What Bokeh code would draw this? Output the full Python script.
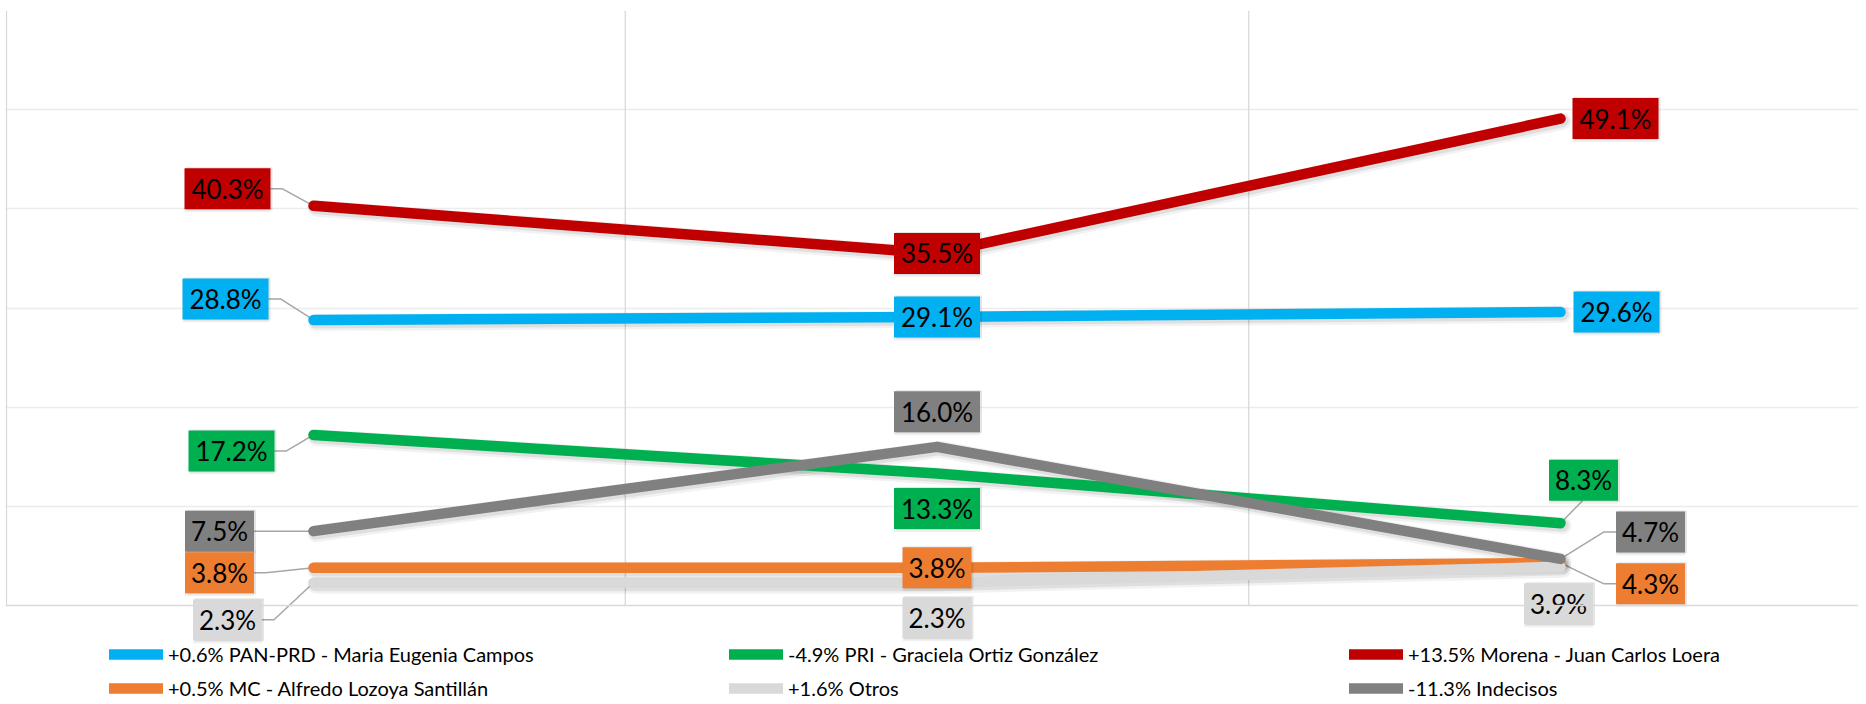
import numpy as np
from bokeh.plotting import figure
from bokeh.models import (Range1d, FixedTicker, Span, Legend, LegendItem,
                          ColumnDataSource, Grid)
from bokeh.core.properties import value
from bokeh.embed import file_html
from bokeh.resources import INLINE

# ---------------- data ----------------
mediciones = [0, 1, 2]  # three successive polls (no labels on the axis)

series_keys = ["pan", "pri", "morena", "mc", "otros", "indecisos"]
legend_labels = [
    "+0.6% PAN-PRD - Maria Eugenia Campos",
    "-4.9% PRI - Graciela Ortiz González",
    "+13.5% Morena - Juan Carlos Loera",
    "+0.5% MC - Alfredo Lozoya Santillán",
    "+1.6% Otros",
    "-11.3% Indecisos",
]
pan = [28.8, 29.1, 29.6]
pri = [17.2, 13.3, 8.3]
morena = [40.3, 35.5, 49.1]
mc = [3.8, 3.8, 4.3]
otros = [2.3, 2.3, 3.9]
indecisos = [7.5, 16.0, 4.7]
values = {"pan": pan, "pri": pri, "morena": morena, "mc": mc,
          "otros": otros, "indecisos": indecisos}

# ---------------- styles / layout ----------------
colors = {"pan": "#00B0F0", "pri": "#00B050", "morena": "#C00000",
          "mc": "#ED7D31", "otros": "#D9D9D9", "indecisos": "#808080"}

# label box offsets (screen px, +dy = down) from each point, and leader style
label_layout = {
    "pan":       [(-88, -21, "R"), (0, 0, None), (56, 0, None)],
    "pri":       [(-82, 16, "R"), (0, 35, None), (23, -43, "B")],
    "morena":    [(-86, -17, "R"), (0, 0, None), (55, 0, None)],
    "mc":        [(-94, 5, "R"), (0, 0, None), (90, 21, "L")],
    "otros":     [(-86, 37, "R"), (0, 35, None), (-2, 37, None)],
    "indecisos": [(-94, 0, "R"), (0, -35, None), (90, -27, "L")],
}

W, H = 1866, 704
LEFT, RIGHT, TOP = 5, 8, 10
PXX = 623.5                       # pixels per poll step
X0 = -(313 - LEFT) / PXX          # first poll sits 313px from the left edge
X1 = X0 + (W - LEFT - RIGHT) / PXX
Y0, Y1 = 0, 60
PLOT_H = 595                      # pixel height of the 0..60 value band
PXY = PLOT_H / (Y1 - Y0)
YSTART = Y1 - (H - TOP) / PXY     # room below 0 for the legend
BOX_H = 41
FONT = "Lato"

p = figure(width=W, height=H, x_range=Range1d(X0, X1), y_range=Range1d(YSTART, Y1),
           output_backend="svg", toolbar_location=None,
           min_border_left=LEFT, min_border_right=RIGHT,
           min_border_top=TOP, min_border_bottom=0)
p.xaxis.visible = False
p.yaxis.visible = False
p.xgrid.visible = False
p.ygrid.visible = False
p.outline_line_color = None
p.background_fill_color = "white"

p.add_layout(Grid(dimension=1, ticker=FixedTicker(ticks=[10, 20, 30, 40, 50, 60]),
                  grid_line_color="#ececec", grid_line_width=1.5))
# category separators and left border, only over the value band
sep_x = [X0 + 1.0 / PXX, 0.5, 1.5]
p.segment(x0=sep_x, y0=[Y0] * 3, x1=sep_x, y1=[Y1] * 3,
          line_color="#d9d9d9", line_width=1.3)
p.add_layout(Span(location=Y0, dimension="width", line_color="#d9d9d9", line_width=1.5))

x = np.array(mediciones, dtype=float)

# leader lines (under the series lines)
lx, ly = [], []
for k in series_keys:
    for i, (dx, dy, mode) in enumerate(label_layout[k]):
        if mode is None:
            continue
        v = values[k][i]
        w = 17 * len(f"{v:.1f}%") + 1
        if mode == "R":
            pts = [(dx + w / 2, dy), (dx + w / 2 + 12, dy), (0, 0)]
        elif mode == "L":
            pts = [(dx - w / 2, dy), (dx - w / 2 - 12, dy), (0, 0)]
        else:  # from bottom of box
            pts = [(dx - 1, dy + BOX_H / 2), (0, 0)]
        lx.append([x[i] + px / PXX for px, _ in pts])
        ly.append([v - py / PXY for _, py in pts])
p.multi_line(lx, ly, line_color="#a6a6a6", line_width=1.5)

# soft shadows of the lines
for k in series_keys:
    y = np.array(values[k])
    p.line(x + 2.5 / PXX, y - 2.5 / PXY, line_color="black", line_alpha=0.05,
           line_width=17, line_cap="round", line_join="round")
    p.line(x + 2 / PXX, y - 2 / PXY, line_color="black", line_alpha=0.08,
           line_width=13, line_cap="round", line_join="round")

renderers = {}
for k in series_keys:
    renderers[k] = p.line(x, values[k], line_color=colors[k], line_width=10.5,
                          line_cap="round", line_join="round")

# data label boxes
bx, by, bw, bc, bt = [], [], [], [], []
for k in series_keys:
    for i, (dx, dy, mode) in enumerate(label_layout[k]):
        v = values[k][i]
        t = f"{v:.1f}%"
        bx.append(x[i] + dx / PXX)
        by.append(v - dy / PXY)
        bw.append(17 * len(t) + 1)
        bc.append(colors[k])
        bt.append(t)
src = ColumnDataSource(dict(x=bx, y=by, w=bw, c=bc, t=bt,
                            sx=[a + 2 / PXX for a in bx],
                            sy=[b - 2 / PXY for b in by]))
p.rect("sx", "y", width="w", height=BOX_H + 2, width_units="screen",
       height_units="screen", fill_color="black", fill_alpha=0.10, line_color=None,
       source=src)
p.rect("x", "sy", width="w", height=BOX_H + 2, width_units="screen",
       height_units="screen", fill_color="black", fill_alpha=0.06, line_color=None,
       source=src)
p.rect("x", "y", width="w", height=BOX_H, width_units="screen", height_units="screen",
       fill_color="c", line_color=None, source=src)
p.text("x", "y", text="t", source=src, text_align="center", text_baseline="middle",
       text_font=value(FONT), text_font_size="26px", text_color="black")

# legend: 3 columns x 2 rows (bokeh fills column by column)
legend_order = ["pan", "mc", "pri", "otros", "morena", "indecisos"]
lab_of = dict(zip(series_keys, legend_labels))
legend = Legend(items=[LegendItem(label=lab_of[k], renderers=[renderers[k]])
                       for k in legend_order],
                ncols=3, location=(104, 4))
legend.label_text_font = FONT
legend.label_text_font_size = "20px"
legend.label_text_color = "black"
legend.glyph_width = 54
legend.glyph_height = 20
legend.label_height = 20
legend.label_width = 551
legend.label_standoff = 5
legend.spacing = 10
legend.padding = 0
legend.margin = 0
legend.border_line_color = None
legend.background_fill_alpha = 0
p.add_layout(legend, "center")

open("out.html", "w").write(file_html(p, INLINE))
